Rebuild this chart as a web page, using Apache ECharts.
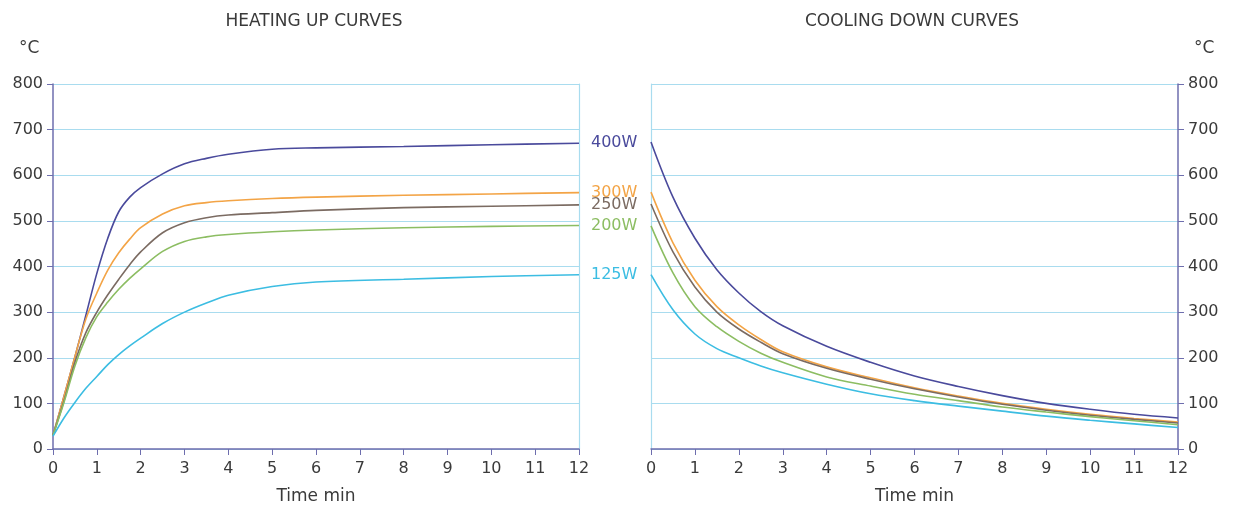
<!DOCTYPE html>
<html><head><meta charset="utf-8">
<script src="https://cdn.jsdelivr.net/npm/echarts@6/dist/echarts.min.js"></script>
<style>html,body{margin:0;padding:0;background:#fff}#c{width:1233px;height:511px}</style>
</head><body><div id="c"></div>
<script>
const seriesNames = ['400W','300W','250W','200W','125W'];
const seriesColors = ['#4a4a9c','#f3a446','#7b6b62','#8cbd62','#3cbde2'];

const heatTime = [0,0.25,0.5,0.75,1,1.25,1.5,1.75,2,2.5,3,3.5,4,5,6,8,10,12];
const heat400 = [30,115,202,293,385,462,520,552,573,603,625,637,646,657,660,663,667,670];
const heat300 = [30,115,202,285,342,392,430,460,485,515,533,540,544,549,552,556,559,562];
const heat250 = [30,105,190,255,300,338,372,404,432,474,496,507,513,518,523,529,532,535];
const heat200 = [30,102,182,244,290,322,350,374,395,433,455,465,470,476,480,485,488,490];
const heat125 = [28,68,102,133,159,185,207,226,243,275,300,320,337,356,366,372,378,382];

const coolTime = [0,0.5,1,1.5,2,2.5,3,4,5,6,7,8,9,10,11,12];
const cool400 = [673,552,462,393,342,301,270,225,190,160,137,117,100,87,76,68];
const cool300 = [563,452,370,312,272,240,213,180,156,134,116,100,87,76,67,59];
const cool250 = [537,432,355,300,263,234,209,177,153,132,114,98,85,74,65,57];
const cool200 = [489,386,312,268,236,210,190,158,138,120,106,92,81,71,62,53];
const cool125 = [382,305,252,220,200,182,167,142,121,106,94,83,72,63,55,47];

const xTicks = [0,1,2,3,4,5,6,7,8,9,10,11,12];
const yTicks = [0,100,200,300,400,500,600,700,800];

const heatSets = [heat400, heat300, heat250, heat200, heat125];
const coolSets = [cool400, cool300, cool250, cool200, cool125];

const FONT = 'DejaVu Sans';
const axisColor = '#6e6eae';
const gridColor = '#a9dcef';
const textColor = '#3a3a3a';

function xAxisDef(gi){
  return {
    type:'value', gridIndex:gi, min:xTicks[0], max:xTicks[xTicks.length-1], interval:1,
    name:'Time min', nameLocation:'middle', nameGap:39,
    nameTextStyle:{fontFamily:FONT, fontSize:17, color:textColor},
    axisLine:{show:true, onZero:false, lineStyle:{color:axisColor, width:1.5}},
    axisTick:{show:true, length:6, lineStyle:{color:axisColor}},
    axisLabel:{fontFamily:FONT, fontSize:16, color:textColor, margin:12},
    splitLine:{show:false}
  };
}
function yAxisDef(gi, pos){
  return {
    type:'value', gridIndex:gi, position:pos, min:yTicks[0], max:yTicks[yTicks.length-1], interval:100,
    axisLine:{show:true, onZero:false, lineStyle:{color:axisColor, width:1.5}},
    axisTick:{show:true, length:6, lineStyle:{color:axisColor}},
    axisLabel:{fontFamily:FONT, fontSize:16, color:textColor, margin:10},
    splitLine:{show:true, lineStyle:{color:gridColor, width:1.2}}
  };
}
function borderAxis(gi, pos){
  return {
    type:'value', gridIndex:gi, position:pos, min:0, max:800, interval:100,
    axisLine:{show:true, onZero:false, lineStyle:{color:gridColor, width:1.2}},
    axisTick:{show:false}, axisLabel:{show:false}, splitLine:{show:false}
  };
}

const series = [];
seriesNames.forEach((n,i)=>{
  series.push({
    name:n, type:'line', xAxisIndex:0, yAxisIndex:0, smooth:0.35,
    showSymbol:false, symbol:'none', lineStyle:{color:seriesColors[i], width:1.6},
    itemStyle:{color:seriesColors[i]},
    data: heatTime.map((t,k)=>[t, heatSets[i][k]]),
    endLabel:{show:true, formatter:'{a}', color:seriesColors[i], fontFamily:FONT, fontSize:16, distance:12},
    z:3
  });
  series.push({
    name:n+' cool', type:'line', xAxisIndex:1, yAxisIndex:2, smooth:0.35,
    showSymbol:false, symbol:'none', lineStyle:{color:seriesColors[i], width:1.6},
    itemStyle:{color:seriesColors[i]},
    data: coolTime.map((t,k)=>[t, coolSets[i][k]]),
    z:3
  });
});

const chart = echarts.init(document.getElementById('c'));
chart.setOption({
  animation:false,
  backgroundColor:'#fff',
  title:[
    {text:'HEATING UP CURVES', left:309, top:8, textAlign:'center', textStyle:{fontFamily:FONT, fontSize:17, fontWeight:'normal', color:textColor}},
    {text:'COOLING DOWN CURVES', left:907, top:8, textAlign:'center', textStyle:{fontFamily:FONT, fontSize:17, fontWeight:'normal', color:textColor}},
    {text:'°C', left:14, top:35, textStyle:{fontFamily:FONT, fontSize:17, fontWeight:'normal', color:textColor}},
    {text:'°C', left:1189, top:35, textStyle:{fontFamily:FONT, fontSize:17, fontWeight:'normal', color:textColor}}
  ],
  grid:[
    {left:53, right:654, top:84, bottom:62},
    {left:651, right:55, top:84, bottom:62}
  ],
  xAxis:[xAxisDef(0), xAxisDef(1)],
  yAxis:[yAxisDef(0,'left'), borderAxis(0,'right'), yAxisDef(1,'right'), borderAxis(1,'left')],
  series: series
});
</script></body></html>
